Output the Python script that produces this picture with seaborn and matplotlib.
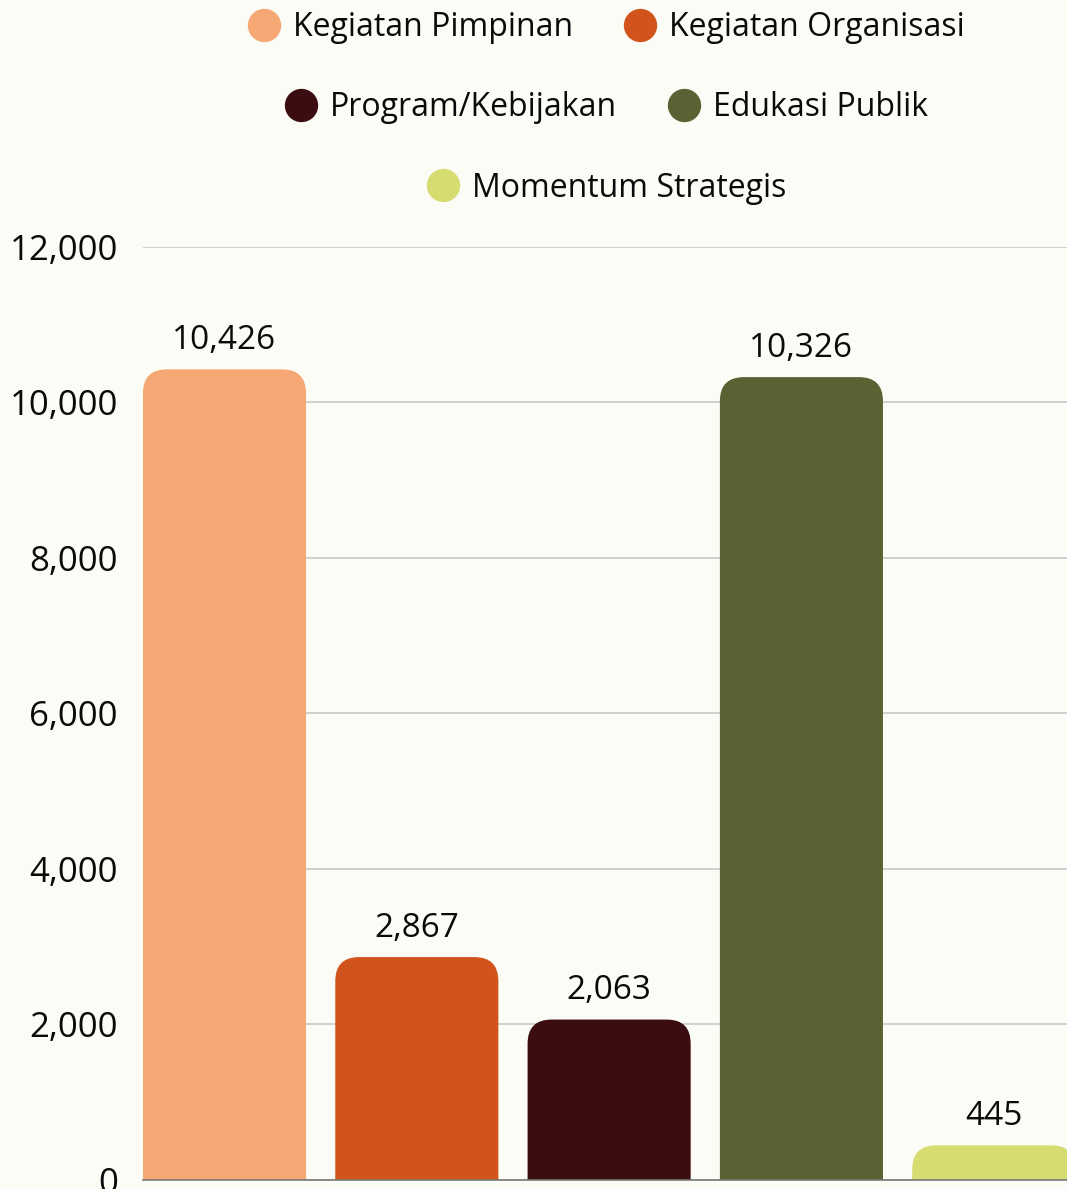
import matplotlib
matplotlib.use("Agg")
import matplotlib.pyplot as plt
import seaborn as sns
from matplotlib.patches import FancyBboxPatch
from matplotlib.lines import Line2D
from matplotlib.ticker import FuncFormatter

categories = ["Kegiatan Pimpinan", "Kegiatan Organisasi", "Program/Kebijakan",
              "Edukasi Publik", "Momentum Strategis"]
values = [10426, 2867, 2063, 10326, 445]
colors = ["#F5A873", "#D2541D", "#3B0C10", "#5C6133", "#D6DC70"]
yticks = [0, 2000, 4000, 6000, 8000, 10000, 12000]

BG = "#FCFCF7"
INK = "#0A0A0A"

sns.set_theme(style="white")
plt.rcParams["font.family"] = ["Open Sans", "DejaVu Sans"]

fig = plt.figure(figsize=(10.67, 11.89), dpi=100, facecolor=BG)
ax = fig.add_axes([0.134, 0.0076, 0.866, 0.7847])
ax.set_facecolor(BG)

sns.barplot(x=categories, y=values, hue=categories, palette=colors,
            legend=False, width=0.848, ax=ax, saturation=1)

ax.set_xlim(-0.424, 4.381)
ax.set_ylim(0, 12000)
ax.set_yticks(yticks)
ax.yaxis.set_major_formatter(FuncFormatter(lambda v, p: f"{int(v):,}"))
ax.set_xticks([])
ax.set_xlabel("")
ax.set_ylabel("")
ax.tick_params(axis="y", length=0, pad=18, labelsize=25, labelcolor=INK)
ax.grid(axis="y", color="#C9C9C9", linewidth=1.2)
ax.set_axisbelow(True)
for s in ["top", "right", "left"]:
    ax.spines[s].set_visible(False)
ax.spines["bottom"].set_color("#777777")
ax.spines["bottom"].set_linewidth(1.2)

# rounded tops: replace seaborn rectangles with rounded boxes
fig.canvas.draw()
bbox = ax.get_window_extent()
x_per_px = (ax.get_xlim()[1] - ax.get_xlim()[0]) / bbox.width
y_per_px = (ax.get_ylim()[1] - ax.get_ylim()[0]) / bbox.height
aspect = y_per_px / x_per_px
r = 24 * x_per_px
for patch, val in zip(list(ax.patches), values):
    x0, w, h, fc = patch.get_x(), patch.get_width(), patch.get_height(), patch.get_facecolor()
    patch.remove()
    ax.add_patch(FancyBboxPatch((x0, -r * aspect * 2), w, h + r * aspect * 2,
                                boxstyle=f"round,pad=0,rounding_size={r}",
                                mutation_aspect=aspect, facecolor=fc,
                                edgecolor="none", zorder=2))
    ax.annotate(f"{val:,}", (x0 + w / 2, h), xytext=(0, 9), textcoords="offset points",
                ha="center", va="bottom", fontsize=24, color=INK,
                annotation_clip=False)

# legend in three centred rows
rows = [[0, 1], [2, 3], [4]]
row_y = [1.2347, 1.149, 1.063]
for idx, (row, yy) in enumerate(zip(rows, row_y)):
    handles = [Line2D([], [], marker="o", linestyle="", markersize=24,
                      markerfacecolor=colors[i], markeredgecolor="none") for i in row]
    leg = ax.legend(handles, [categories[i] for i in row], loc="center",
                    bbox_to_anchor=(0.5, yy), ncol=len(row), frameon=False,
                    fontsize=23, handletextpad=0.3, columnspacing=1.5,
                    handlelength=1.2, borderaxespad=0, labelcolor=INK)
    if idx < len(rows) - 1:
        ax.add_artist(leg)

fig.savefig("out.png", dpi=100, facecolor=BG)
